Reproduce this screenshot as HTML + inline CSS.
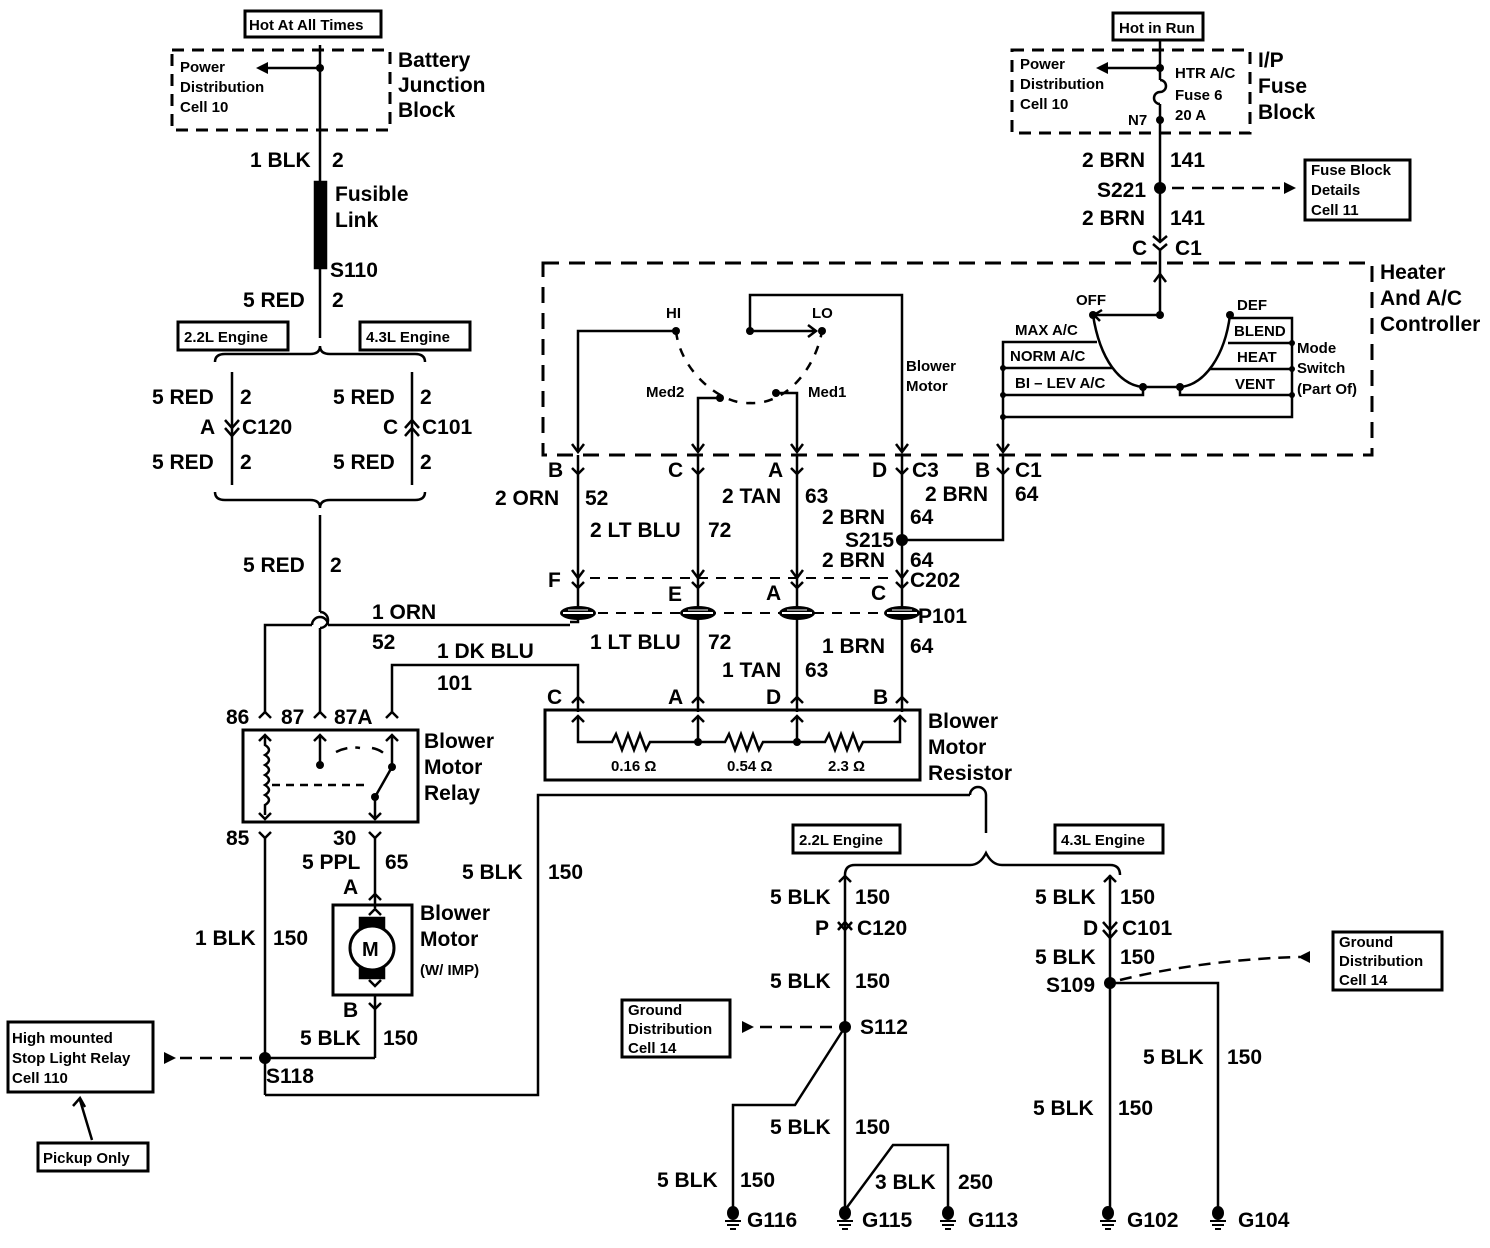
<!DOCTYPE html>
<html><head><meta charset="utf-8"><style>
html,body{margin:0;padding:0;background:#fff}
svg{display:block}
text{font-family:"Liberation Sans",Arial,sans-serif;font-weight:bold;fill:#000}
.l{font-size:21px}
.s{font-size:15px}
</style></head><body>
<svg width="1490" height="1248" viewBox="0 0 1490 1248" xmlns="http://www.w3.org/2000/svg">
<defs>
<g id="gnd"><ellipse cx="0" cy="-5" rx="6" ry="7" fill="#000"/><line x1="-8" y1="3" x2="8" y2="3" stroke="#000" stroke-width="2"/><line x1="-6" y1="7" x2="6" y2="7" stroke="#000" stroke-width="2"/><line x1="-3" y1="11" x2="3" y2="11" stroke="#000" stroke-width="2"/></g>
<g id="p101"><ellipse cx="0" cy="0" rx="18" ry="7" fill="#000"/><line x1="-15" y1="0" x2="15" y2="0" stroke="#fff" stroke-width="2"/><line x1="-10" y1="-3" x2="10" y2="-3" stroke="#fff" stroke-width="1"/></g>
</defs>
<g stroke="#000" stroke-width="2.5" fill="none">
<rect x="245" y="11" width="136" height="26" stroke-width="3"/>
<rect x="172" y="50" width="218" height="80" stroke-dasharray="12,8" stroke-width="3"/>
<line x1="320" y1="45" x2="320" y2="338"/>
<line x1="320" y1="68" x2="266" y2="68"/>
<rect x="315" y="182" width="11" height="86" fill="#000"/>
<rect x="178" y="322" width="110" height="28" stroke-width="3"/>
<rect x="360" y="322" width="110" height="28" stroke-width="3"/>
<path d="M215 362 q0 -8 10 -8 h85 q10 0 10 -8 q0 8 10 8 h85 q10 0 10 8"/>
<line x1="232" y1="372" x2="232" y2="485"/>
<line x1="412" y1="372" x2="412" y2="485"/>
<path d="M225 420 l7 8 l7 -8 M225 428 l7 8 l7 -8"/>
<path d="M405 428 l7 -8 l7 8 M405 436 l7 -8 l7 8"/>
<path d="M215 492 q0 8 10 8 h85 q10 0 10 8 q0 -8 10 -8 h85 q10 0 10 -8"/>
<line x1="320" y1="515" x2="320" y2="612"/>
<path d="M320 612 a8 8 0 0 1 0 16"/>
<path d="M312 625 a8 8 0 0 1 16 0"/>
<line x1="320" y1="628" x2="320" y2="712"/>
<path d="M265 712 V625 H312 M328 625 H570"/>
<path d="M392 712 V665 H578 V712"/>
<rect x="243" y="730" width="175" height="92" stroke-width="3"/>
<path d="M259 718 l6 -6 l6 6 M314 718 l6 -6 l6 6 M386 718 l6 -6 l6 6"/>
<path d="M265 735 v10 q8 5 0 10 q8 5 0 10 q8 5 0 10 q8 5 0 10 q8 5 0 10 q8 5 0 10 v10"/>
<path d="M259 741 l6 -6 l6 6 M259 813 l6 6 l6 -6"/>
<path d="M320 735 V765 M314 741 l6 -6 l6 6"/>
<path d="M392 735 V767 M386 741 l6 -6 l6 6"/>
<path d="M336 752 q12 -6 24 -4 M372 748 q10 2 14 8" stroke-dasharray="12,8"/>
<line x1="272" y1="785" x2="368" y2="785" stroke-dasharray="8,6"/>
<path d="M392 767 L375 797 V820 M369 813 l6 6 l6 -6"/>
<path d="M259 832 l6 6 l6 -6 M369 832 l6 6 l6 -6"/>
<line x1="265" y1="838" x2="265" y2="1095"/>
<line x1="375" y1="838" x2="375" y2="908"/>
<path d="M369 900 l6 -6 l6 6"/>
<rect x="333" y="905" width="79" height="90" stroke-width="3"/>
<rect x="360" y="918" width="24" height="60" fill="#000"/>
<circle cx="372" cy="948" r="22" fill="#fff" stroke-width="3"/>
<path d="M369 915 l6 -6 l6 6 M369 980 l6 6 l6 -6"/>
<line x1="375" y1="995" x2="375" y2="1058"/>
<path d="M369 1003 l6 6 l6 -6"/>
<path d="M375 1058 H265"/>
<path d="M265 1095 H538 V795 H970"/>
<path d="M970 795 a8 8 0 0 1 16 0"/>
<path d="M986 795 V833"/>
<rect x="8" y="1022" width="145" height="70" stroke-width="3"/>
<line x1="180" y1="1058" x2="258" y2="1058" stroke-dasharray="12,8"/>
<rect x="38" y="1143" width="110" height="28" stroke-width="3"/>
<line x1="92" y1="1140" x2="80" y2="1100"/>
<path d="M73 1106 l7 -8 l5 9"/>
<rect x="1113" y="13" width="90" height="27" stroke-width="3"/>
<rect x="1012" y="50" width="238" height="83" stroke-dasharray="12,8" stroke-width="3"/>
<line x1="1160" y1="40" x2="1160" y2="80"/>
<line x1="1160" y1="68" x2="1106" y2="68"/>
<path d="M1160 80 a6 6 0 0 1 0 12 a6 6 0 0 0 0 12"/>
<line x1="1160" y1="104" x2="1160" y2="242"/>
<path d="M1153 236 l7 6 l7 -6 M1153 244 l7 6 l7 -6"/>
<line x1="1160" y1="250" x2="1160" y2="315"/>
<path d="M1154 282 l6 -8 l6 8"/>
<line x1="1172" y1="188" x2="1280" y2="188" stroke-dasharray="12,8"/>
<rect x="1305" y="160" width="105" height="60" stroke-width="3"/>
<rect x="543" y="263" width="829" height="192" stroke-dasharray="16,10" stroke-width="3"/>
<path d="M676 331 H578 V452"/>
<path d="M750 331 V295 H902 V452"/>
<path d="M750 331 H815 M808 325 l8 6 l-8 6"/>
<path d="M676 331 C 680 370, 720 405, 750 403 C 785 405, 815 370, 822 331" stroke-dasharray="9,9"/>
<path d="M720 398 H698 V452 M776 393 H797 V452"/>
<path d="M572 444 l6 8 l6 -8 M692 444 l6 8 l6 -8 M791 444 l6 8 l6 -8 M896 444 l6 8 l6 -8 M997 444 l6 8 l6 -8"/>
<path d="M1160 315 H1095 M1102 310 l-8 5 l6 6"/>
<path d="M1093 315 C 1100 360, 1120 385, 1143 387 H1180 C 1205 385, 1225 355, 1230 315"/>
<path d="M1003 452 V342 H1097 M1003 368 H1112 M1003 395 H1143 V387"/>
<path d="M1180 387 V395 H1292 M1210 369 H1292 M1228 343 H1292 M1230 318 H1292 V417 H1003"/>
<path d="M578 455 V612 M698 455 V712 M797 455 V712 M902 455 V712"/>
<path d="M902 540 H1003 V455"/>
<path d="M572 468 l6 6 l6 -6 M692 468 l6 6 l6 -6 M791 468 l6 6 l6 -6 M896 468 l6 6 l6 -6 M997 468 l6 6 l6 -6"/>
<path d="M572 570 l6 8 l6 -8 M692 570 l6 8 l6 -8 M791 570 l6 8 l6 -8 M896 570 l6 8 l6 -8"/>
<path d="M572 582 l6 6 l6 -6 M692 582 l6 6 l6 -6 M791 582 l6 6 l6 -6 M896 582 l6 6 l6 -6"/>
<line x1="590" y1="578" x2="890" y2="578" stroke-dasharray="10,8" stroke-width="2"/>
<line x1="598" y1="613" x2="880" y2="613" stroke-dasharray="10,8" stroke-width="2"/>
<path d="M578 613 V622 H570"/>
<path d="M572 703 l6 -6 l6 6 M692 703 l6 -6 l6 6 M791 703 l6 -6 l6 6 M896 703 l6 -6 l6 6"/>
<rect x="545" y="710" width="375" height="70" stroke-width="3"/>
<path d="M578 716 V742 H612 l4 -8 l6 16 l6 -16 l6 16 l6 -16 l6 16 l4 -8 H725 l4 -8 l6 16 l6 -16 l6 16 l6 -16 l6 16 l4 -8 H825 l4 -8 l6 16 l6 -16 l6 16 l6 -16 l6 16 l4 -8 H900 V716"/>
<path d="M698 716 V742 M797 716 V742"/>
<path d="M572 722 l6 -6 l6 6 M692 722 l6 -6 l6 6 M791 722 l6 -6 l6 6 M894 722 l6 -6 l6 6"/>
<rect x="793" y="825" width="107" height="28" stroke-width="3"/>
<rect x="1055" y="825" width="108" height="28" stroke-width="3"/>
<path d="M845 875 q0 -10 10 -10 h115 q10 0 16 -12 q6 12 16 12 h108 q10 0 10 10"/>
<line x1="845" y1="875" x2="845" y2="1212"/>
<path d="M839 882 l6 -6 l6 6"/>
<path d="M838 922 l7 8 l7 -8 M838 930 l7 -8 l7 8"/>
<path d="M845 1027 L795 1105 H733 V1212"/>
<path d="M845 1210 L893 1145 H948 V1212"/>
<rect x="622" y="1000" width="108" height="57" stroke-width="3"/>
<line x1="760" y1="1027" x2="835" y2="1027" stroke-dasharray="12,8"/>
<line x1="1110" y1="875" x2="1110" y2="1212"/>
<path d="M1104 882 l6 -6 l6 6"/>
<path d="M1103 922 l7 8 l7 -8 M1103 930 l7 8 l7 -8"/>
<path d="M1110 983 H1218 V1212"/>
<path d="M1120 980 C 1180 965, 1250 958, 1300 957" stroke-dasharray="12,8"/>
<rect x="1333" y="932" width="109" height="58" stroke-width="3"/>
</g>
<g fill="#000">
<path d="M256 68 l12 -6 v12 z"/>
<path d="M1096 68 l12 -6 v12 z"/>
<path d="M1296 188 l-12 -6 v12 z"/>
<path d="M176 1058 l-12 -6 v12 z"/>
<path d="M754 1027 l-12 -6 v12 z"/>
<path d="M1298 957 l12 -6 v12 z"/>
<circle cx="320" cy="68" r="4"/><circle cx="1160" cy="68" r="4"/><circle cx="1160" cy="120" r="4"/>
<circle cx="1160" cy="188" r="6"/><circle cx="902" cy="540" r="6"/><circle cx="265" cy="1058" r="6"/>
<circle cx="845" cy="1027" r="6"/><circle cx="1110" cy="983" r="6"/>
<circle cx="676" cy="331" r="4"/><circle cx="750" cy="331" r="4"/><circle cx="822" cy="331" r="4"/>
<circle cx="720" cy="398" r="4"/><circle cx="776" cy="393" r="4"/><circle cx="1160" cy="315" r="4"/>
<circle cx="1093" cy="315" r="4"/><circle cx="1230" cy="315" r="4"/><circle cx="1143" cy="387" r="4"/><circle cx="1180" cy="387" r="4"/>
<circle cx="1003" cy="368" r="3"/><circle cx="1003" cy="395" r="3"/><circle cx="1003" cy="417" r="3"/><circle cx="1292" cy="343" r="3"/><circle cx="1292" cy="369" r="3"/><circle cx="1292" cy="395" r="3"/>
<circle cx="320" cy="765" r="4"/><circle cx="392" cy="767" r="4"/><circle cx="375" cy="797" r="4"/>
<circle cx="698" cy="742" r="4"/><circle cx="797" cy="742" r="4"/>
</g>
<use href="#p101" x="578" y="613"/><use href="#p101" x="698" y="613"/><use href="#p101" x="797" y="613"/><use href="#p101" x="902" y="613"/>
<use href="#gnd" x="733" y="1218"/><use href="#gnd" x="845" y="1218"/><use href="#gnd" x="948" y="1218"/><use href="#gnd" x="1108" y="1218"/><use href="#gnd" x="1218" y="1218"/>
<g class="s">
<text x="249" y="30">Hot At All Times</text>
<text x="180" y="72">Power</text><text x="180" y="92">Distribution</text><text x="180" y="112">Cell 10</text>
<text x="184" y="342">2.2L Engine</text><text x="366" y="342">4.3L Engine</text>
<text x="1119" y="33">Hot in Run</text>
<text x="1020" y="69">Power</text><text x="1020" y="89">Distribution</text><text x="1020" y="109">Cell 10</text>
<text x="1175" y="78">HTR A/C</text><text x="1175" y="100">Fuse 6</text><text x="1175" y="120">20 A</text><text x="1128" y="125">N7</text>
<text x="1311" y="175">Fuse Block</text><text x="1311" y="195">Details</text><text x="1311" y="215">Cell 11</text>
<text x="666" y="318">HI</text><text x="812" y="318">LO</text><text x="646" y="397">Med2</text><text x="808" y="397">Med1</text>
<text x="906" y="371">Blower</text><text x="906" y="391">Motor</text>
<text x="1076" y="305">OFF</text><text x="1237" y="310">DEF</text><text x="1015" y="335">MAX A/C</text>
<text x="1010" y="361">NORM A/C</text><text x="1015" y="388">BI – LEV A/C</text>
<text x="1234" y="336">BLEND</text><text x="1237" y="362">HEAT</text><text x="1235" y="389">VENT</text>
<text x="1297" y="353">Mode</text><text x="1297" y="373">Switch</text><text x="1297" y="394">(Part Of)</text>
<text x="611" y="771">0.16 Ω</text><text x="727" y="771">0.54 Ω</text><text x="828" y="771">2.3 Ω</text>
<text x="420" y="975">(W/ IMP)</text>
<text x="12" y="1043">High mounted</text><text x="12" y="1063">Stop Light Relay</text><text x="12" y="1083">Cell 110</text>
<text x="43" y="1163">Pickup Only</text>
<text x="799" y="845">2.2L Engine</text><text x="1061" y="845">4.3L Engine</text>
<text x="628" y="1015">Ground</text><text x="628" y="1034">Distribution</text><text x="628" y="1053">Cell 14</text>
<text x="1339" y="947">Ground</text><text x="1339" y="966">Distribution</text><text x="1339" y="985">Cell 14</text>
</g>
<g class="l">
<text x="398" y="67">Battery</text><text x="398" y="92">Junction</text><text x="398" y="117">Block</text>
<text x="250" y="167">1 BLK</text><text x="332" y="167">2</text>
<text x="335" y="201">Fusible</text><text x="335" y="227">Link</text><text x="330" y="277">S110</text>
<text x="243" y="307">5 RED</text><text x="332" y="307">2</text>
<text x="152" y="404">5 RED</text><text x="240" y="404">2</text><text x="200" y="434">A</text><text x="242" y="434">C120</text><text x="152" y="469">5 RED</text><text x="240" y="469">2</text>
<text x="333" y="404">5 RED</text><text x="420" y="404">2</text><text x="383" y="434">C</text><text x="422" y="434">C101</text><text x="333" y="469">5 RED</text><text x="420" y="469">2</text>
<text x="243" y="572">5 RED</text><text x="330" y="572">2</text>
<text x="372" y="619">1 ORN</text><text x="372" y="649">52</text>
<text x="437" y="658">1 DK BLU</text><text x="437" y="690">101</text>
<text x="226" y="724">86</text><text x="281" y="724">87</text><text x="334" y="724">87A</text>
<text x="424" y="748">Blower</text><text x="424" y="774">Motor</text><text x="424" y="800">Relay</text>
<text x="226" y="845">85</text><text x="333" y="845">30</text>
<text x="302" y="869">5 PPL</text><text x="385" y="869">65</text><text x="343" y="894">A</text>
<text x="420" y="920">Blower</text><text x="420" y="946">Motor</text>
<text x="462" y="879">5 BLK</text><text x="548" y="879">150</text>
<text x="195" y="945">1 BLK</text><text x="273" y="945">150</text>
<text x="343" y="1017">B</text><text x="300" y="1045">5 BLK</text><text x="383" y="1045">150</text>
<text x="266" y="1083">S118</text>
<text x="1258" y="67">I/P</text><text x="1258" y="93">Fuse</text><text x="1258" y="119">Block</text>
<text x="1082" y="167">2 BRN</text><text x="1170" y="167">141</text><text x="1097" y="197">S221</text>
<text x="1082" y="225">2 BRN</text><text x="1170" y="225">141</text><text x="1132" y="255">C</text><text x="1175" y="255">C1</text>
<text x="1380" y="279">Heater</text><text x="1380" y="305">And A/C</text><text x="1380" y="331">Controller</text>
<text x="548" y="477">B</text><text x="668" y="477">C</text><text x="768" y="477">A</text><text x="872" y="477">D</text><text x="912" y="477">C3</text><text x="975" y="477">B</text><text x="1015" y="477">C1</text>
<text x="495" y="505">2 ORN</text><text x="585" y="505">52</text><text x="722" y="503">2 TAN</text><text x="805" y="503">63</text>
<text x="925" y="501">2 BRN</text><text x="1015" y="501">64</text>
<text x="590" y="537">2 LT BLU</text><text x="708" y="537">72</text>
<text x="822" y="524">2 BRN</text><text x="910" y="524">64</text><text x="845" y="547">S215</text>
<text x="822" y="567">2 BRN</text><text x="910" y="567">64</text>
<text x="548" y="587">F</text><text x="668" y="601">E</text><text x="766" y="600">A</text><text x="871" y="600">C</text><text x="910" y="587">C202</text><text x="918" y="623">P101</text>
<text x="590" y="649">1 LT BLU</text><text x="708" y="649">72</text><text x="722" y="677">1 TAN</text><text x="805" y="677">63</text>
<text x="822" y="653">1 BRN</text><text x="910" y="653">64</text>
<text x="547" y="704">C</text><text x="668" y="704">A</text><text x="766" y="704">D</text><text x="873" y="704">B</text>
<text x="928" y="728">Blower</text><text x="928" y="754">Motor</text><text x="928" y="780">Resistor</text>
<text x="770" y="904">5 BLK</text><text x="855" y="904">150</text><text x="815" y="935">P</text><text x="857" y="935">C120</text>
<text x="770" y="988">5 BLK</text><text x="855" y="988">150</text><text x="860" y="1034">S112</text>
<text x="770" y="1134">5 BLK</text><text x="855" y="1134">150</text>
<text x="657" y="1187">5 BLK</text><text x="740" y="1187">150</text>
<text x="875" y="1189">3 BLK</text><text x="958" y="1189">250</text>
<text x="747" y="1227">G116</text><text x="862" y="1227">G115</text><text x="968" y="1227">G113</text><text x="1127" y="1227">G102</text><text x="1238" y="1227">G104</text>
<text x="1035" y="904">5 BLK</text><text x="1120" y="904">150</text><text x="1083" y="935">D</text><text x="1122" y="935">C101</text>
<text x="1035" y="964">5 BLK</text><text x="1120" y="964">150</text><text x="1046" y="992">S109</text>
<text x="1143" y="1064">5 BLK</text><text x="1227" y="1064">150</text>
<text x="1033" y="1115">5 BLK</text><text x="1118" y="1115">150</text>
</g>
<text x="362" y="956" style="font-size:20px">M</text>
</svg>
</body></html>
